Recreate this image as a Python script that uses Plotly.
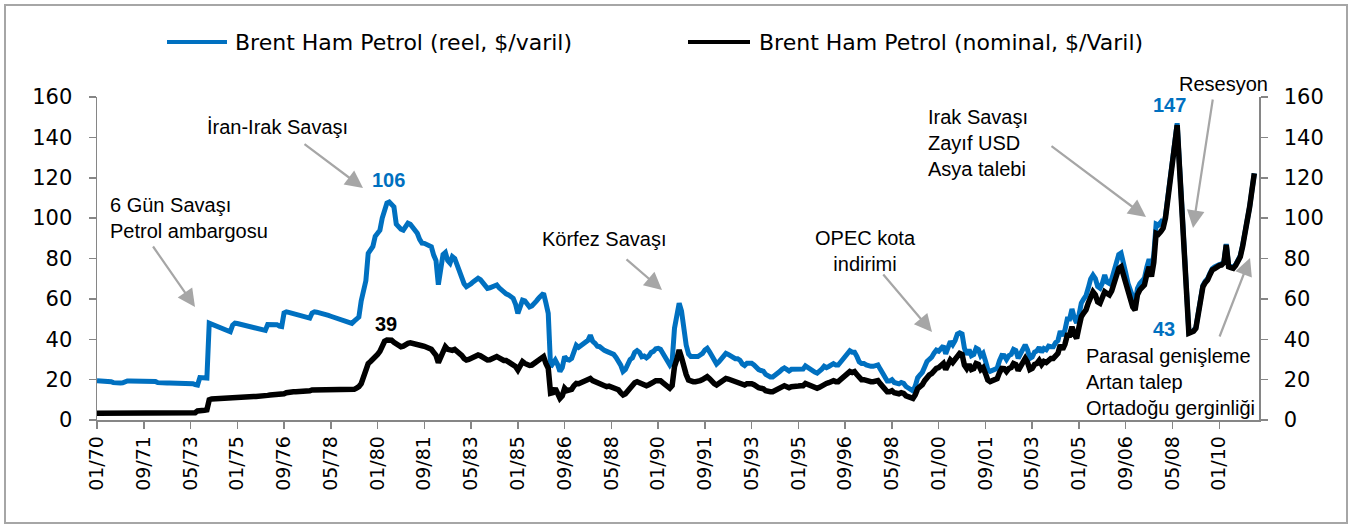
import plotly.graph_objects as go

# ---------------- data (monthly, 01/1970 - 04/2011) ----------------
real_price = [
    19.4,19.4,19.3,19.3,19.3,19.2,19.0,18.5,18.3,18.3,18.3,18.4,  # 1970
    19.2,19.3,19.3,19.3,19.3,19.3,19.2,19.2,19.2,19.2,19.2,19.1,  # 1971
    19.1,19.1,18.5,18.3,18.3,18.3,18.3,18.3,18.3,18.3,18.3,18.3,  # 1972
    18.3,18.2,18.2,18.2,18.1,18.0,17.5,17.3,21.0,21.0,21.0,20.8,  # 1973
    48.0,47.5,47.0,46.5,46.0,45.5,45.0,44.5,44.0,43.7,47.0,48.0,  # 1974
    47.8,47.5,47.3,47.0,46.8,46.5,46.2,46.0,45.7,45.4,45.1,44.8,  # 1975
    44.4,47.3,47.3,47.3,47.3,47.2,46.5,46.3,53.0,53.6,53.3,53.0,  # 1976
    52.7,52.4,52.1,51.8,51.5,51.2,50.8,50.5,53.0,53.6,53.4,53.2,  # 1977
    53.0,52.6,52.2,51.8,51.4,51.0,50.6,50.2,49.8,49.4,49.0,48.7,  # 1978
    48.3,47.9,49.0,50.0,51.0,59.0,64.0,69.0,82.6,84.5,86.0,91.0,  # 1979
    92.5,94.0,100.0,104.0,107.5,108.0,106.5,105.6,97.0,95.5,94.5,94.0,  # 1980
    95.5,97.5,97.0,95.5,94.0,92.5,89.5,87.6,87.5,87.0,86.5,85.8,  # 1981
    81.7,79.0,67.0,74.0,82.0,83.0,79.0,77.7,80.9,80.0,76.8,74.0,  # 1982
    69.3,67.5,66.0,66.5,67.5,68.5,69.5,70.2,69.5,68.0,66.5,65.2,  # 1983
    65.5,66.2,66.9,66.9,65.5,64.5,62.7,62.5,62.0,61.0,60.3,57.5,  # 1984
    52.8,56.0,59.4,59.0,57.0,56.0,56.5,57.5,59.0,60.5,61.5,62.8,  # 1985
    58.0,52.8,26.4,28.0,29.7,27.5,24.0,26.0,31.4,30.0,29.7,30.5,  # 1986
    34.0,37.0,36.0,37.0,38.0,38.5,39.5,42.0,39.0,38.0,36.5,36.3,  # 1987
    35.0,34.5,34.0,33.5,33.0,32.5,31.0,29.5,27.2,24.0,25.0,27.5,  # 1988
    29.9,30.8,33.5,34.4,33.5,31.3,31.7,30.8,31.7,33.5,34.0,35.3,  # 1989
    35.5,35.0,33.0,31.0,29.0,27.2,29.0,45.4,51.6,57.8,54.0,44.7,  # 1990
    37.1,32.7,31.4,31.4,31.4,31.4,32.2,33.0,34.7,35.5,33.8,31.4,  # 1991
    28.8,27.7,28.8,30.4,32.0,33.0,32.5,31.7,31.2,30.4,30.4,29.6,  # 1992
    27.8,27.0,28.1,28.2,28.1,27.3,25.7,25.0,24.5,24.2,22.6,21.8,  # 1993
    21.3,21.3,22.0,22.8,24.0,25.1,25.8,25.1,24.3,25.1,25.1,24.8,  # 1994
    24.9,25.2,25.2,26.8,25.9,25.2,24.4,23.7,23.2,24.0,25.2,26.6,  # 1995
    25.9,26.5,27.2,27.9,27.2,27.2,28.6,30.0,32.2,33.0,34.3,33.6,  # 1996
    33.6,31.5,28.8,28.0,28.0,27.3,26.6,26.6,26.6,27.3,27.3,25.2,  # 1997
    22.8,20.6,19.3,19.3,20.0,18.6,18.2,17.9,18.6,18.2,16.6,16.0,  # 1998
    14.9,14.4,16.9,20.9,22.3,23.6,26.3,29.0,30.1,31.1,33.1,34.6,  # 1999
    34.1,35.4,36.7,32.8,36.0,38.9,37.3,39.3,42.6,43.2,42.6,35.6,  # 2000
    32.4,34.9,31.8,32.4,35.6,34.9,31.8,33.0,29.3,25.1,24.1,24.8,  # 2001
    24.8,25.6,29.4,32.0,31.9,30.0,31.9,32.5,35.0,34.4,30.6,33.0,  # 2002
    36.0,37.2,34.8,30.5,31.2,33.6,34.2,36.0,33.6,35.4,34.8,36.6,  # 2003
    36.3,36.3,38.3,39.3,44.1,41.7,44.6,50.0,50.0,55.0,50.6,48.1,  # 2004
    52.0,57.9,59.9,61.6,65.5,69.9,71.8,70.1,66.1,65.3,67.8,71.8,  # 2005
    68.3,67.6,69.8,74.7,78.5,81.9,82.7,78.5,72.9,67.6,64.7,61.0,  # 2006
    57.2,65.1,67.6,69.3,70.2,75.6,79.7,74.6,81.9,97.1,96.6,98.0,  # 2007
    96.0,101.0,110.1,118.2,126.7,136.4,147.0,126.3,106.1,82.8,60.6,43.4,  # 2008
    43.8,44.3,45.8,51.7,60.6,66.7,68.7,70.0,72.7,75.0,75.8,76.7,  # 2009
    77.0,77.3,78.5,87.2,76.4,76.0,75.6,77.0,79.0,81.4,86.5,93.0,  # 2010
    97.0,105.6,114.0,122.2,                                      # 2011
]

nominal_price = [
    3.3,3.3,3.3,3.3,3.3,3.3,3.3,3.3,3.3,3.3,3.3,3.3,  # 1970
    3.3,3.3,3.3,3.3,3.3,3.3,3.3,3.3,3.3,3.3,3.3,3.3,  # 1971
    3.3,3.3,3.3,3.3,3.3,3.3,3.3,3.3,3.3,3.3,3.3,3.3,  # 1972
    3.3,3.3,3.3,3.3,3.3,3.3,3.6,4.5,4.8,4.8,4.8,5.0,  # 1973
    10.0,10.4,10.5,10.5,10.5,10.5,10.6,10.6,10.7,10.8,11.0,11.0,  # 1974
    11.3,11.4,11.4,11.5,11.5,11.5,11.5,11.6,11.6,11.6,11.6,11.6,  # 1975
    11.8,12.2,12.4,12.4,12.4,12.4,12.4,12.4,13.0,13.5,13.8,13.9,  # 1976
    14.0,14.0,14.0,14.0,14.0,14.0,14.0,14.5,14.9,14.9,14.9,14.9,  # 1977
    14.9,14.9,14.9,14.9,14.9,14.9,14.9,14.9,14.9,14.9,14.9,14.9,  # 1978
    14.9,15.0,15.2,15.8,16.5,18.0,22.0,26.0,28.0,29.0,30.0,31.5,  # 1979
    32.5,34.0,36.5,39.0,39.6,39.8,39.5,38.5,37.5,36.5,36.3,36.6,  # 1980
    37.5,38.0,38.2,37.8,37.3,37.0,37.0,36.8,36.5,36.0,35.5,35.0,  # 1981
    33.5,32.0,28.4,31.0,34.5,36.3,35.0,34.7,34.5,35.0,34.0,33.5,  # 1982
    32.0,30.5,29.7,30.0,30.5,31.0,31.5,32.2,31.8,31.0,30.0,29.7,  # 1983
    29.8,30.5,31.0,31.4,30.8,30.0,29.5,29.5,28.9,28.0,27.5,26.5,  # 1984
    24.8,27.0,28.9,28.0,27.2,27.0,27.2,28.0,29.0,29.5,30.5,31.4,  # 1985
    28.0,25.6,13.2,13.5,15.7,13.5,10.7,12.0,15.7,14.5,14.9,15.2,  # 1986
    17.0,18.1,18.0,18.5,19.0,19.5,20.0,20.6,19.5,19.0,18.5,17.3,  # 1987
    17.0,16.5,16.5,16.8,16.5,16.0,15.5,15.0,13.5,12.4,13.0,14.5,  # 1988
    16.5,17.0,18.5,19.0,18.5,17.3,17.5,17.0,17.5,18.5,18.8,19.5,  # 1989
    19.8,19.5,18.5,17.5,16.5,15.7,17.0,26.4,30.0,34.7,31.0,26.0,  # 1990
    22.5,19.8,19.0,19.0,19.0,19.0,19.5,20.0,21.0,21.5,20.5,19.0,  # 1991
    18.0,17.3,18.0,19.0,20.0,20.6,20.3,19.8,19.5,19.0,19.0,18.5,  # 1992
    17.8,17.3,18.0,18.1,18.0,17.5,16.5,16.0,15.7,15.5,14.5,14.0,  # 1993
    14.0,14.0,14.5,15.0,15.8,16.5,17.0,16.5,16.0,16.5,16.5,16.3,  # 1994
    16.8,17.0,17.0,18.1,17.5,17.0,16.5,16.0,15.7,16.2,17.0,18.0,  # 1995
    18.1,18.5,19.0,19.5,19.0,19.0,20.0,21.0,22.5,23.1,24.0,23.5,  # 1996
    24.0,22.5,20.6,20.0,20.0,19.5,19.0,19.0,19.0,19.5,19.5,18.0,  # 1997
    16.5,14.9,14.0,14.0,14.5,13.5,13.2,13.0,13.5,13.2,12.0,11.6,  # 1998
    11.0,10.7,12.5,15.5,16.5,17.5,19.5,21.5,22.3,23.0,24.5,25.6,  # 1999
    26.0,27.0,28.0,25.0,27.5,29.7,28.5,30.0,32.5,33.0,32.5,27.2,  # 2000
    25.5,27.5,25.0,25.5,28.0,27.5,25.0,26.0,23.1,19.8,19.0,19.5,  # 2001
    19.8,20.5,23.5,25.6,25.5,24.0,25.5,26.0,28.0,27.5,24.5,26.4,  # 2002
    29.5,30.5,28.5,25.0,25.6,27.5,28.0,29.5,27.5,29.0,28.5,30.0,  # 2003
    30.5,30.5,32.2,33.0,37.1,35.0,37.5,42.0,42.0,46.2,42.5,40.4,  # 2004
    46.0,51.2,53.0,54.5,58.0,61.9,63.5,62.0,58.5,57.8,60.0,63.5,  # 2005
    62.7,62.0,64.0,68.5,72.0,75.1,75.9,72.0,66.9,62.0,59.4,56.0,  # 2006
    54.5,62.0,64.4,66.0,66.9,72.0,75.9,71.0,78.0,92.5,92.0,93.3,  # 2007
    95.0,100.0,109.0,117.0,125.4,135.0,146.1,125.0,105.0,82.0,60.0,43.0,  # 2008
    43.5,44.0,45.4,51.2,60.0,66.0,68.0,69.3,72.0,74.3,75.0,75.9,  # 2009
    76.5,76.8,78.0,86.7,75.9,75.5,75.1,76.5,78.5,80.9,86.0,92.5,  # 2010
    97.0,105.6,114.0,122.2,                                      # 2011
]

tick_labels = ["01/70", "09/71", "05/73", "01/75", "09/76", "05/78", "01/80",
               "09/81", "05/83", "01/85", "09/86", "05/88", "01/90", "09/91",
               "05/93", "01/95", "09/96", "05/98", "01/00", "09/01", "05/03",
               "01/05", "09/06", "05/08", "01/10"]
tick_step_months = 20

series_names = ["Brent Ham Petrol (reel, $/varil)", "Brent Ham Petrol (nominal, $/Varil)"]

# ---------------- figure ----------------
W, H = 1352, 524
L, R, T, B = 97, 1259, 97, 420          # plot area in pixels
PW, PH = R - L, B - T

def px(x):
    return (x - L) / PW

def py(y):
    return (B - y) / PH

months = list(range(len(real_price)))
BLUE = "#0070C0"
GREY = "#A6A6A6"
AXIS = "#868686"

fig = go.Figure()
fig.add_trace(go.Scatter(x=months, y=real_price, mode="lines", name=series_names[0],
                         line=dict(color=BLUE, width=5), showlegend=False,
                         yaxis="y"))
fig.add_trace(go.Scatter(x=months, y=nominal_price, mode="lines", name=series_names[1],
                         line=dict(color="#000000", width=5.5), showlegend=False,
                         yaxis="y2"))

axis_font = dict(family="DejaVu Sans", size=21, color="#000000")
yax = dict(range=[0, 160], dtick=20, showgrid=False, zeroline=False, showline=True,
           linecolor=AXIS, linewidth=1.5, ticks="outside", ticklen=7, tickcolor=AXIS,
           tickwidth=1.5, tickfont=axis_font, ticklabelstandoff=12, fixedrange=True)

fig.update_layout(
    width=W, height=H,
    margin=dict(l=L, r=W - R, t=T, b=H - B, autoexpand=False),
    paper_bgcolor="white", plot_bgcolor="white",
    xaxis=dict(range=[0, 497], tickmode="array",
               tickvals=[i * tick_step_months for i in range(len(tick_labels))],
               ticktext=tick_labels, tickangle=-90, showgrid=False, zeroline=False,
               showline=True, linecolor=AXIS, linewidth=1.5, ticks="outside",
               ticklen=7, tickcolor=AXIS, tickwidth=1.5, fixedrange=True,
               tickfont=dict(family="DejaVu Sans", size=19, color="#000000")),
    yaxis=yax,
    yaxis2=dict(yax, overlaying="y", side="right"),
    showlegend=False,
)

# manual legend
leg_y = py(42)
for (x0, x1, tx, color, name) in [(167, 227, 233, BLUE, series_names[0]),
                                  (688, 750, 757, "#000000", series_names[1])]:
    fig.add_shape(type="line", xref="paper", yref="paper", x0=px(x0), x1=px(x1),
                  y0=leg_y, y1=leg_y, line=dict(color=color, width=4))
    fig.add_annotation(xref="paper", yref="paper", x=px(tx), y=leg_y, text=name,
                       showarrow=False, xanchor="left", yanchor="middle",
                       font=dict(family="DejaVu Sans", size=22, color="#000000"))

# outer frame
fig.add_shape(type="rect", xref="paper", yref="paper", x0=px(5), x1=px(1347),
              y0=py(523), y1=py(5), line=dict(color=GREY, width=2))

txt_font = dict(family="Liberation Sans, Arial", size=20, color="#000000")
texts = [
    ("6 Gün Savaşı<br>Petrol ambargosu", 108, 218, "left"),
    ("İran-Irak Savaşı", 205, 127, "left"),
    ("Körfez Savaşı", 540, 239, "left"),
    ("OPEC kota<br>indirimi", 865, 251, "center"),
    ("Irak Savaşı<br>Zayıf USD<br>Asya talebi", 926, 143, "left"),
    ("Resesyon", 1177, 84, "left"),
    ("Parasal genişleme<br>Artan talep<br>Ortadoğu gerginliği", 1084, 382, "left"),
]
for t, x, y, al in texts:
    fig.add_annotation(xref="paper", yref="paper", x=px(x), y=py(y), text=t,
                       showarrow=False, xanchor=al, yanchor="middle", align=al,
                       font=txt_font)

labels = [("106", 388, 180, BLUE), ("39", 386, 324, "#000000"),
          ("147", 1169, 105, BLUE), ("43", 1164, 329, BLUE)]
for t, x, y, c in labels:
    fig.add_annotation(xref="paper", yref="paper", x=px(x), y=py(y),
                       text="<b>%s</b>" % t, showarrow=False, xanchor="center",
                       yanchor="middle",
                       font=dict(family="Liberation Sans, Arial", size=20, color=c))

# arrows: (tip_x, tip_y, start_x, start_y) in pixels
arrows = [(195, 307, 152, 245), (363, 188, 303, 143), (662, 290, 625, 258),
          (932, 332, 882, 273), (1146, 217, 1050, 145), (1193, 228, 1213, 98),
          (1250, 258, 1219, 338)]
for tx, ty, sx, sy in arrows:
    fig.add_annotation(xref="paper", yref="paper", x=px(tx), y=py(ty), text="",
                       showarrow=True, ax=sx - tx, ay=sy - ty, arrowhead=2,
                       arrowsize=1.6, arrowwidth=2.2, arrowcolor=GREY, standoff=0)

fig.write_html("out.html",
               config={"displayModeBar": False, "staticPlot": True},
               post_script="document.body.style.margin='0px';"
                           "document.body.style.overflow='hidden';")
